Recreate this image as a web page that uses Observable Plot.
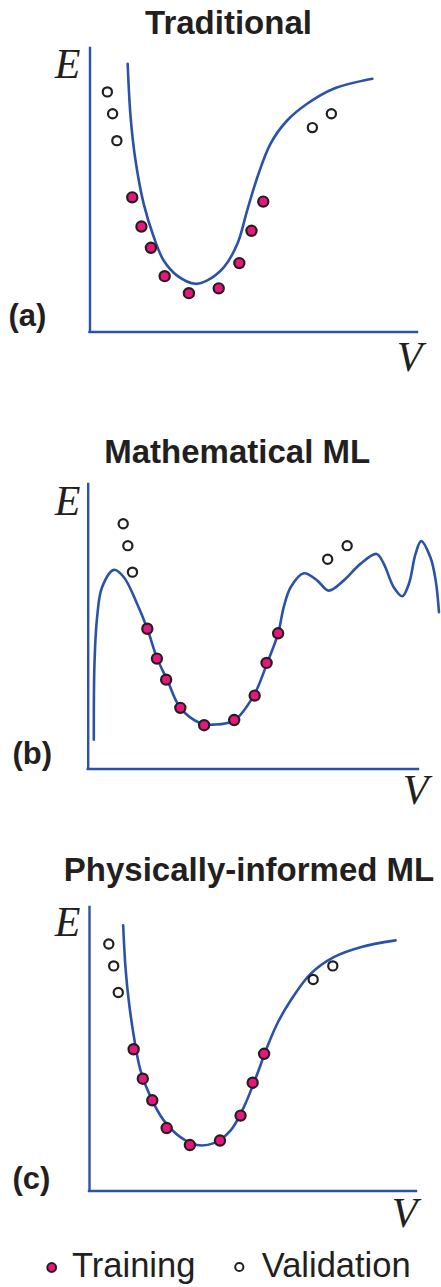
<!DOCTYPE html>
<html>
<head>
<meta charset="utf-8">
<script src="https://cdn.jsdelivr.net/npm/d3@7"></script>
<script src="https://cdn.jsdelivr.net/npm/@observablehq/plot@0.6"></script>
<style>
  body { margin: 0; background: #fff; }
  #root { position: relative; width: 441px; height: 1287px; overflow: hidden; background: #fff; }
</style>
</head>
<body>
<div id="root"></div>
<script>
// ---------- data (V and E in arbitrary units, 0..10 along each axis) ----------
const titles = ["Traditional", "Mathematical ML", "Physically-informed ML"];
const tags = ["(a)", "(b)", "(c)"];
const legendLabels = ["Training", "Validation"];

// Panel (a): Traditional
const curveA_V = [1.15, 1.24, 1.39, 1.64, 1.95, 2.25, 2.66, 3.22, 3.58, 4.09, 4.50, 4.80, 5.11, 5.51, 6.02, 6.63, 7.44, 8.62];
const curveA_E = [9.46, 7.58, 6.05, 4.52, 3.34, 2.52, 1.99, 1.70, 1.82, 2.29, 3.11, 4.29, 5.46, 6.64, 7.46, 8.05, 8.58, 8.93];
const trainA_V = [1.29, 1.57, 1.86, 2.28, 3.02, 3.93, 4.56, 4.93, 5.29];
const trainA_E = [4.75, 3.72, 2.97, 1.97, 1.37, 1.54, 2.43, 3.57, 4.60];
const validA_V = [0.53, 0.69, 0.82, 6.79, 7.37];
const validA_E = [8.47, 7.70, 6.75, 7.21, 7.70];

// Panel (b): Mathematical ML
const curveB_V = [0.17, 0.19, 0.27, 0.42, 0.78, 1.08, 1.48, 1.79, 2.09, 2.39, 2.79, 3.40, 3.80, 4.41, 5.01, 5.42, 5.75, 5.92, 6.13, 6.53, 6.93, 7.28, 7.74, 8.24, 8.73, 8.95, 9.25, 9.51, 9.71, 9.91, 10.08, 10.36, 10.52, 10.62];
const curveB_E = [1.03, 3.70, 5.34, 6.39, 7.00, 6.74, 5.81, 4.93, 3.88, 3.14, 2.15, 1.61, 1.56, 1.70, 2.58, 3.73, 4.77, 5.69, 6.39, 6.88, 6.63, 6.27, 6.63, 7.21, 7.56, 7.21, 6.39, 6.07, 6.51, 7.56, 8.01, 7.44, 6.63, 5.51];
const trainB_V = [1.79, 2.08, 2.36, 2.79, 3.51, 4.42, 5.04, 5.40, 5.75];
const trainB_E = [4.93, 3.88, 3.14, 2.15, 1.54, 1.72, 2.58, 3.73, 4.77];
const validB_V = [1.06, 1.20, 1.34, 7.25, 7.84];
const validB_E = [8.62, 7.85, 6.92, 7.37, 7.85];

// Panel (c): Physically-informed ML
const curveC_V = [1.03, 1.10, 1.20, 1.36, 1.56, 1.87, 2.27, 2.78, 3.29, 3.80, 4.31, 4.72, 5.13, 5.43, 5.74, 6.15, 6.76, 7.47, 8.29, 9.36];
const curveC_E = [9.37, 7.89, 6.72, 5.43, 4.25, 3.31, 2.49, 1.90, 1.62, 1.69, 2.13, 2.96, 4.13, 5.07, 5.90, 6.72, 7.66, 8.25, 8.60, 8.84];
const trainC_V = [1.35, 1.63, 1.92, 2.36, 3.07, 3.99, 4.62, 4.99, 5.34];
const trainC_E = [5.00, 3.96, 3.20, 2.22, 1.62, 1.78, 2.66, 3.82, 4.84];
const validC_V = [0.59, 0.74, 0.88, 6.84, 7.44];
const validC_E = [8.71, 7.94, 7.00, 7.46, 7.94];

// ---------- styling ----------
const BLUE = "#2a52a8";
const MAGENTA = "#e6167c";
const INK = "#231f20";
const SANS = "'Liberation Sans', Arial, Helvetica, sans-serif";
const SERIF = "'Liberation Serif', 'Times New Roman', serif";

const panels = [
  {curveV: curveA_V, curveE: curveA_E, trainV: trainA_V, trainE: trainA_E, validV: validA_V, validE: validA_E,
   top: 0, height: 390, mL: 89.5, mR: 24, mT: 48, mB: 58.5,
   title: {dx: 138.5, dy: -15}, E: {dx: -9.5, dy: 29}, V: {dx: 5, dy: 38.5}, tag: {dx: -81.5, dy: -6}},
  {curveV: curveB_V, curveE: curveB_E, trainV: trainB_V, trainE: trainB_E, validV: validB_V, validE: validB_E,
   top: 400, height: 440, mL: 87.7, mR: 23, mT: 84, mB: 71.5,
   title: {dx: 149, dy: -22}, E: {dx: -7.7, dy: 30}, V: {dx: 10, dy: 34.5}, tag: {dx: -75.7, dy: -5}},
  {curveV: curveC_V, curveE: curveC_E, trainV: trainC_V, trainE: trainC_E, validV: validC_V, validE: validC_E,
   top: 840, height: 447, mL: 89, mR: 25, mT: 67, mB: 96.5,
   title: {dx: 159.5, dy: -27}, E: {dx: -9, dy: 28}, V: {dx: 1, dy: 36}, tag: {dx: -77, dy: -2}}
];

const root = document.getElementById("root");

panels.forEach((p, k) => {
  const curve = p.curveV.map((v, i) => ({V: v, E: p.curveE[i]}));
  const train = p.trainV.map((v, i) => ({V: v, E: p.trainE[i]}));
  const valid = p.validV.map((v, i) => ({V: v, E: p.validE[i]}));
  const chart = Plot.plot({
    width: 441,
    height: p.height,
    marginLeft: p.mL, marginRight: p.mR, marginTop: p.mT, marginBottom: p.mB,
    x: {domain: [0, 10], axis: null},
    y: {domain: [0, 10], axis: null},
    style: {background: "transparent", overflow: "visible"},
    marks: [
      Plot.ruleX([0], {stroke: BLUE, strokeWidth: 2.4, strokeLinecap: "square"}),
      Plot.ruleY([0], {stroke: BLUE, strokeWidth: 2.4, strokeLinecap: "square"}),
      Plot.line(curve, {x: "V", y: "E", curve: "catmull-rom", stroke: BLUE, strokeWidth: 2.6}),
      Plot.dot(train, {x: "V", y: "E", r: 5.1, fill: MAGENTA, stroke: INK, strokeWidth: 2.2}),
      Plot.dot(valid, {x: "V", y: "E", r: 4.6, fill: "#fff", stroke: INK, strokeWidth: 2.2}),
      Plot.text([titles[k]], {frameAnchor: "top-left", dx: p.title.dx, dy: p.title.dy, textAnchor: "middle", lineAnchor: "bottom",
        fontSize: 33, fontWeight: "bold", fontFamily: SANS, fill: INK}),
      Plot.text(["E"], {frameAnchor: "top-left", dx: p.E.dx, dy: p.E.dy, textAnchor: "end", lineAnchor: "bottom",
        fontSize: 42, fontStyle: "italic", fontFamily: SERIF, fill: INK}),
      Plot.text(["V"], {frameAnchor: "bottom-right", dx: p.V.dx, dy: p.V.dy, textAnchor: "end", lineAnchor: "bottom",
        fontSize: 42, fontStyle: "italic", fontFamily: SERIF, fill: INK}),
      Plot.text([tags[k]], {frameAnchor: "bottom-left", dx: p.tag.dx, dy: p.tag.dy, textAnchor: "start", lineAnchor: "bottom",
        fontSize: 31, fontWeight: "bold", fontFamily: SANS, fill: INK})
    ]
  });
  chart.style.position = "absolute";
  chart.style.top = p.top + "px";
  chart.style.left = "0px";
  root.appendChild(chart);
});

// ---------- legend (below the last panel) ----------
const leg = d3.create("svg").attr("width", 441).attr("height", 47)
  .style("position", "absolute").style("top", "1240px").style("left", "0px");
leg.append("circle").attr("cx", 51.7).attr("cy", 27.5).attr("r", 4.4)
  .attr("fill", MAGENTA).attr("stroke", INK).attr("stroke-width", 2);
leg.append("text").attr("x", 72).attr("y", 36.7).text(legendLabels[0])
  .attr("font-family", SANS).attr("font-size", 34.5).attr("fill", INK);
leg.append("circle").attr("cx", 239.3).attr("cy", 27).attr("r", 4.1)
  .attr("fill", "#fff").attr("stroke", INK).attr("stroke-width", 2);
leg.append("text").attr("x", 261.7).attr("y", 36.7).text(legendLabels[1])
  .attr("font-family", SANS).attr("font-size", 34.5).attr("fill", INK);
root.appendChild(leg.node());
</script>
</body>
</html>
